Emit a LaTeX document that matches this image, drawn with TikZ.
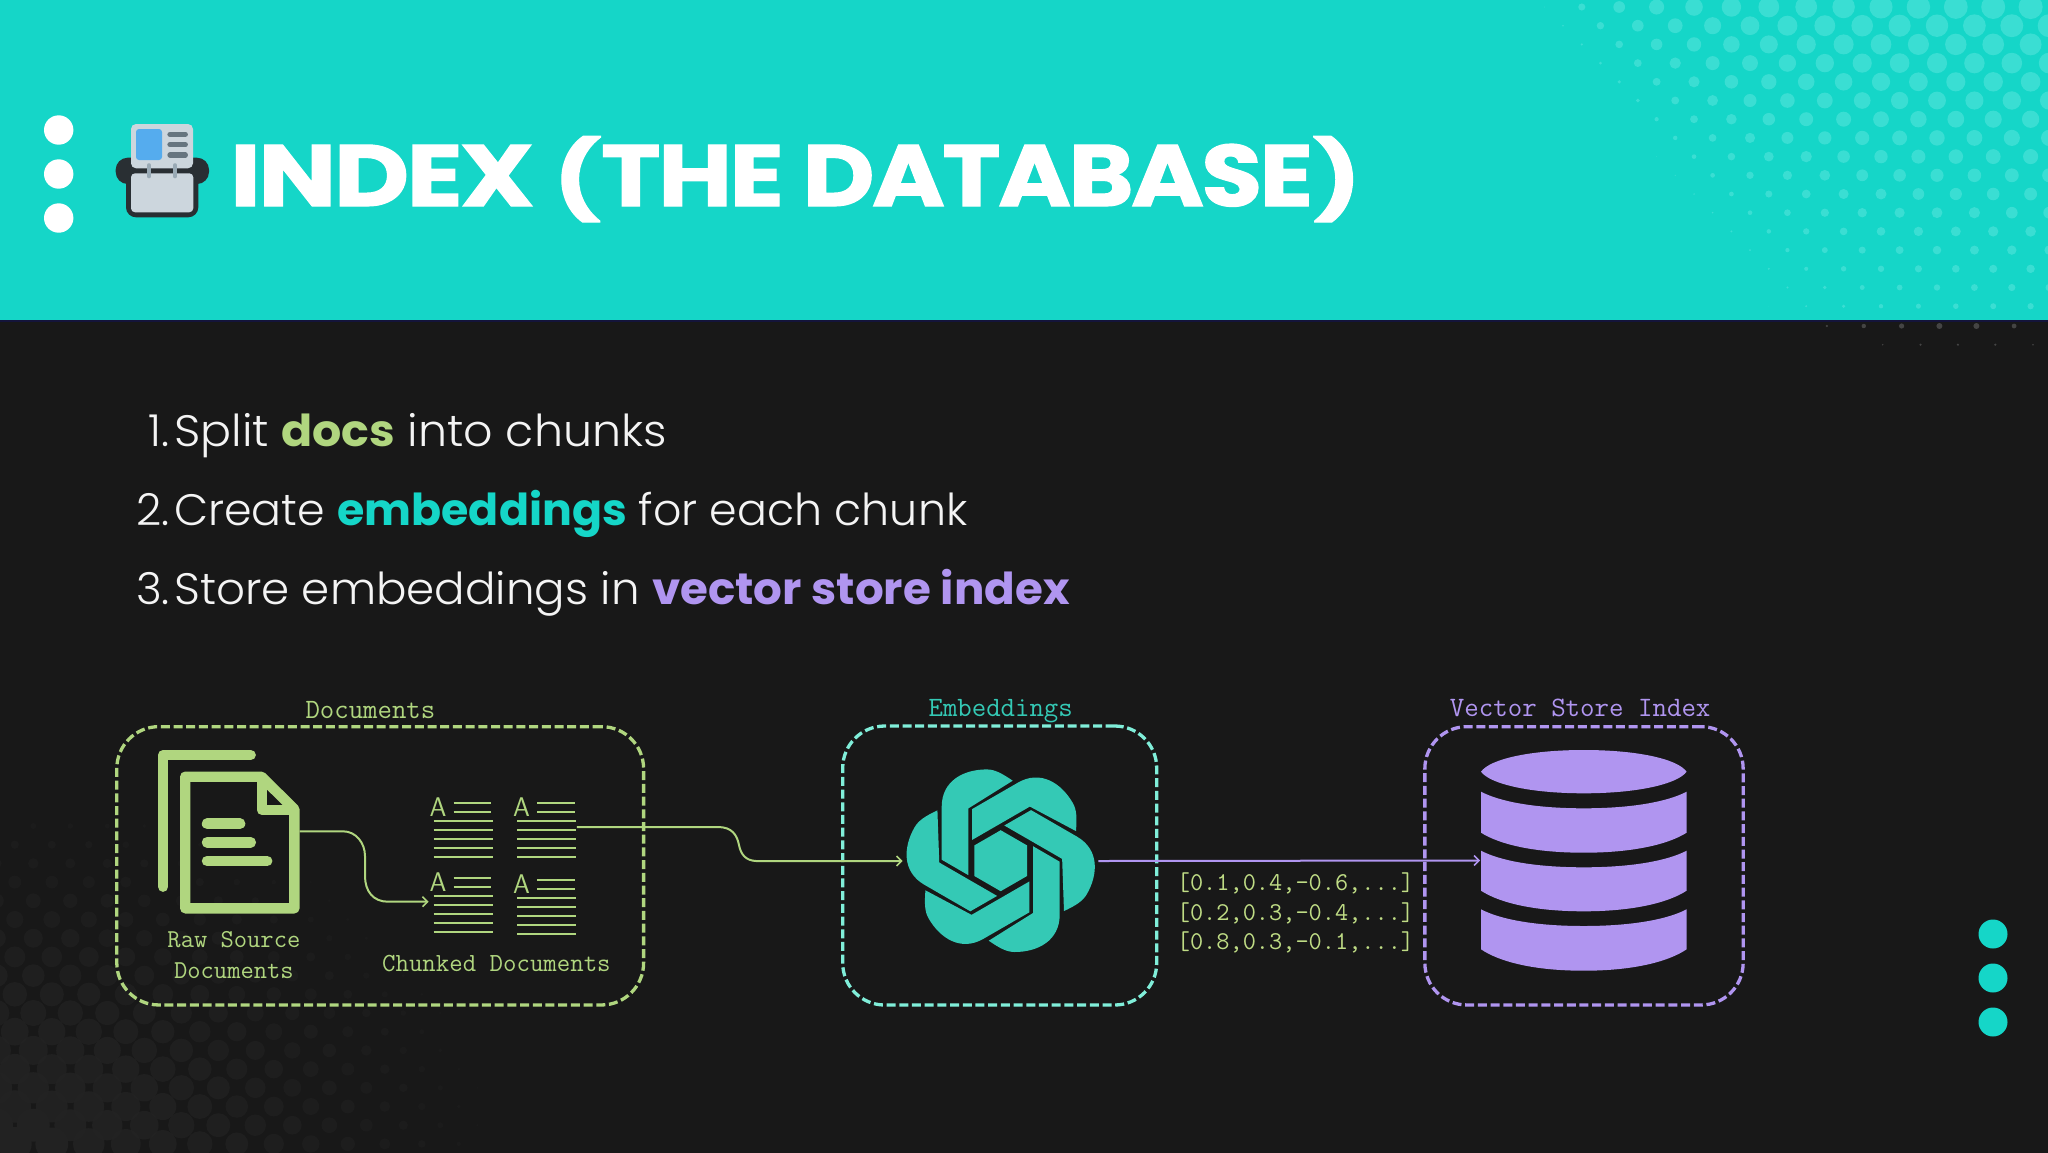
\documentclass[tikz,border=0pt]{standalone}
\usepackage{fontspec}
\usepackage{graphicx}
\usetikzlibrary{arrows.meta}
\setmainfont{Poppins}
\newfontfamily\titlefont[BoldFeatures={FakeBold=1.3,LetterSpace=-2.5}]{Poppins}
\newfontfamily\listfont[BoldFont={Poppins Bold}]{Poppins Light}
\definecolor{hdr}{HTML}{15D6C8}
\definecolor{hdrline}{HTML}{14143A}
\definecolor{hdrdot}{HTML}{3ADED3}
\definecolor{bodybg}{HTML}{181818}
\definecolor{grn}{HTML}{B0D67F}
\definecolor{teal}{HTML}{34C9B5}
\definecolor{mint}{HTML}{80EED9}
\definecolor{purp}{HTML}{B095F0}
\definecolor{listtxt}{HTML}{F4F4F4}
\definecolor{vectxt}{HTML}{BFDC85}
\definecolor{dkdot}{HTML}{232323}
\definecolor{icdark}{HTML}{292F33}
\definecolor{iclight}{HTML}{CCD6DD}
\definecolor{icblue}{HTML}{55ACEE}
\definecolor{icgray}{HTML}{66757F}
\definecolor{icring}{HTML}{99AAB5}
\definecolor{fdot}{HTML}{444444}
\tikzset{
  dbox/.style={draw=#1,line width=3.3pt,dash pattern=on 9pt off 3.7pt,rounded corners=42pt,inner sep=0pt,fill=none},
  lbl/.style={font=\ttfamily\fontsize{#1}{#1}\selectfont,inner sep=0pt,anchor=base},
  listline/.style={font=\listfont\fontsize{44}{50}\selectfont,text=listtxt,inner sep=0pt,anchor=base west},
  listnum/.style={font=\listfont\fontsize{44}{50}\selectfont,text=listtxt,inner sep=0pt,anchor=base east},
  conn/.style={line width=2pt,-{Straight Barb[length=5pt,width=10pt,line width=1.6pt]}},
  chunkline/.style={line width=1.8pt,grn},
  vect/.style={font=\ttfamily\fontsize{25.6}{25.6}\selectfont,text=vectxt,inner sep=0pt,anchor=base},
}
\newcommand{\chunkicon}[3]{% name, x, y of block origin
  \node[font=\sffamily\fontsize{27}{27}\selectfont,text=grn,inner sep=0pt,anchor=base west] (#1) at (#2,#3+19.7) {A};
  \foreach \yy in {6.3,15.3}{\draw[chunkline] (#2+24.3,#3+\yy) -- ++(37.4,0);}
  \foreach \yy in {24.3,33.3,42.3,51.3,60.3}{\draw[chunkline] (#2+4.3,#3+\yy) -- ++(59,0);}
}
\newcommand{\dbseg}[4]{% ytop ymidtop ybot ymidbot
  \fill[purp] (1481,#1) .. controls (1500,{#1+0.6*(#2-#1)}) and (1535,#2) .. (1583.8,#2)
     .. controls (1632,#2) and (1667.6,{#1+0.6*(#2-#1)}) .. (1686.6,#1)
     -- (1686.6,#3) .. controls (1667.6,{#3+0.6*(#4-#3)}) and (1632,#4) .. (1583.8,#4)
     .. controls (1535,#4) and (1500,{#3+0.6*(#4-#3)}) .. (1481,#3) -- cycle;
}
\begin{document}
\begin{tikzpicture}[x=1pt,y=-1pt]
\useasboundingbox (0,0) rectangle (2048,1152);
\fill[bodybg] (-5,-5) rectangle (2053,1157);
% bottom-left halftone
\begin{scope}
\clip (-5,800) rectangle (560,1157);
\foreach \k in {0,...,17}{
  \pgfmathsetmacro{\yy}{826+18.7*\k}
  \pgfmathsetmacro{\xo}{mod(\k,2)==0 ? 33.3 : 14.8}
  \foreach \i in {-1,...,13}{
    \pgfmathsetmacro{\xx}{\xo+37*\i}
    \pgfmathsetmacro{\ss}{sqrt(pow(abs(\xx)/500,2)+pow((1152-\yy)/370,2))}
    \pgfmathsetmacro{\rr}{\ss<1 ? 17*(1-pow(\ss,1.5)) : 0}
    \pgfmathsetmacro{\oo}{\ss<1 ? 0.25+0.75*(1-\ss) : 0}
    \ifdim\rr pt>0.4pt \fill[dkdot,opacity=\oo] (\xx,\yy) circle[radius=\rr]; \fi
  }
}
\end{scope}
% header
\fill[hdr] (-5,-5) rectangle (2053,320);
\fill[hdrline] (-5,320) rectangle (2053,322);
\begin{scope}
\clip (-5,-5) rectangle (2053,320);
\foreach \k in {0,...,16}{
  \pgfmathsetmacro{\yy}{7+18.7*\k}
  \pgfmathsetmacro{\xo}{mod(\k,2)==0 ? 1544.4 : 1563}
  \foreach \i in {0,...,14}{
    \pgfmathsetmacro{\xx}{\xo+37.4*\i}
    \pgfmathsetmacro{\dd}{2.861*(\xx-1500)-100-0.71*3*\yy}
    \ifdim\dd pt>0pt
      \pgfmathsetmacro{\rr}{(12.5-9*\yy/307)*(1-exp(-\dd/350))}
      \fill[hdrdot] (\xx,\yy) circle[radius=\rr];
    \fi
  }
}
\end{scope}
% faint dots under the header
\foreach \xx/\rr in {1826.8/1.2,1863.8/2.2,1901.6/2.6,1939.4/3,1976.4/3,2014.1/2.4}{\fill[fdot] (\xx,326) circle[radius=\rr];}
\foreach \xx/\rr in {1882.7/.8,1920.5/1.2,1957.9/1.2,1995.3/1.2,2033/.9}{\fill[fdot] (\xx,344.7) circle[radius=\rr];}
% side dots
\foreach \yy in {130,174,218}{\fill[white] (58.7,\yy) circle[radius=14.7];}
\foreach \yy in {934,978,1022}{\fill[hdr] (1993,\yy) circle[radius=14.5];}
% header icon
\fill[icdark,rounded corners=12pt] (115.7,157.7) rectangle (209,184);
\fill[icdark,rounded corners=10pt] (126,165) rectangle (198.3,217.3);
\fill[iclight,rounded corners=5pt] (131,124) rectangle (193,168.3);
\fill[icblue,rounded corners=3pt] (136,129) rectangle (162,160);
\foreach \yy in {134.3,144.7,155}{\draw[line width=5.3pt,line cap=round,icgray] (170,\yy) -- (185.3,\yy);}
\fill[iclight,rounded corners=4pt] (131,173.3) rectangle (193.3,212.3);
\foreach \xx in {149,175}{\draw[line width=4.7pt,line cap=round,icring] (\xx,165.5) -- (\xx,176);}
% title
\node[inner sep=0pt,anchor=base west,text=white] (title) at (230,206) {\resizebox{1131pt}{70pt}{\titlefont\fontsize{92}{92}\selectfont\bfseries \scalebox{1.03}[1]{INDEX} \scalebox{1}[0.88]{(}THE \scalebox{0.98}[1]{DATABASE}\scalebox{1}[0.88]{)}}};
% list
\node[listnum] (n1) at (170,446) {1.};
\node[listline] (l1) at (174,446) {\scalebox{1.044}[1]{Split \textcolor{grn}{\bfseries docs} into chunks}};
\node[listnum] (n2) at (170,525) {2.};
\node[listline] (l2) at (174,525) {\scalebox{1.007}[1]{Create \textcolor{hdr}{\bfseries embeddings} for each chunk}};
\node[listnum] (n3) at (170,604) {3.};
\node[listline] (l3) at (174,604) {\scalebox{1.027}[1]{Store embeddings in \textcolor{purp}{\bfseries vector store index}}};
% boxes
\node[dbox=grn,minimum width=526.8pt,minimum height=278.3pt] (docsbox) at (380.2,865.8) {};
\node[dbox=mint,minimum width=314pt,minimum height=279pt] (embbox) at (999.7,865.5) {};
\node[dbox=purp,minimum width=318.3pt,minimum height=278.3pt] (vecbox) at (1584,865.8) {};
\node[lbl=28,text=grn] (docslbl) at (370.4,718) {Documents};
\node[lbl=28,text=teal] (emblbl) at (1000.7,716) {Embeddings};
\node[lbl=28.1,text=purp] (veclbl) at (1580.2,716.5) {Vector Store Index};
\node[lbl=25.8,text=grn] (rawlbl1) at (233.9,947.7) {Raw Source};
\node[lbl=25.8,text=grn] (rawlbl2) at (233.9,978.3) {Documents};
\node[lbl=26.1,text=grn] (chklbl) at (496.4,971) {Chunked Documents};
% raw document icon
\begin{scope}[grn,line join=round]
\draw[line width=10.4pt,line cap=round] (163.2,886.7) -- (163.2,755) -- (250.7,755);
\draw[line width=10.4pt] (185.2,776.7) -- (261.4,776.7) -- (294.4,809.3) -- (294.4,908.3) -- (185.2,908.3) -- cycle;
\draw[line width=10pt] (261.8,777) -- (261.8,810) -- (294.4,810);
\draw[line width=10.7pt,line cap=round] (207.1,823.7) -- (240,823.7);
\draw[line width=10.7pt,line cap=round] (207.1,842.3) -- (250.7,842.3);
\draw[line width=10.7pt,line cap=round] (207.1,861) -- (267.1,861);
\end{scope}
% chunk icons
\chunkicon{c1}{429.3}{797}
\chunkicon{c2}{512.9}{797}
\chunkicon{c3}{429.3}{871.4}
\chunkicon{c4}{512.9}{873.4}
% logo
\begin{scope}[shift={(1000.7,860.7)}]
\foreach \a in {0,60,...,300}{
  \fill[teal,rotate=\a] (12,-80) .. controls (1,-87.5) and (-6,-91.3) .. (-14,-91.3)
     .. controls (-37,-91.3) and (-59,-80) .. (-59,-54) -- (-59,-1) -- (-32.3,14.5) -- (-32.3,-52.3) -- cycle;
}
\fill[teal] (90:30.5) -- (30:30.5) -- (-30:30.5) -- (-90:30.5) -- (-150:30.5) -- (150:30.5) -- cycle;
\end{scope}
% database
\fill[purp] (1481,771.7) .. controls (1490,759) and (1530,750) .. (1583.8,750)
   .. controls (1637.6,750) and (1677.6,759) .. (1686.6,771.7)
   .. controls (1677.6,784) and (1637.6,793.3) .. (1583.8,793.3)
   .. controls (1530,793.3) and (1490,784) .. (1481,771.7) -- cycle;
\dbseg{791.7}{808.3}{832.7}{852.7}
\dbseg{850.7}{867.3}{890.7}{911.3}
\dbseg{909.3}{926}{949.3}{970.7}
% vector text
\node[vect] (v1) at (1295.5,890.3) {[0.1,0.4,-0.6,...]};
\node[vect] (v2) at (1295.5,920.7) {[0.2,0.3,-0.4,...]};
\node[vect] (v3) at (1295.5,949.3) {[0.8,0.3,-0.1,...]};
% connectors
\coordinate (rawout) at (299.6,831.3);
\coordinate (chunkin) at (428.6,901.7);
\coordinate (chunkout) at (576.8,827);
\coordinate (logoin) at (902.7,861);
\coordinate (logoout) at (1098.3,861);
\coordinate (dbin) at (1480.2,860.5);
\draw[conn,grn] (rawout) -- (343,831.3) .. controls (356,831.3) and (365,843) .. (365,856) -- (365,876)
   .. controls (365,891) and (373,901.7) .. (388,901.7) -- (chunkin);
\draw[conn,grn] (chunkout) -- (718,827) .. controls (732,827) and (737,835) .. (739,845)
   .. controls (741,855) and (746,860.5) .. (756,861) -- (logoin);
\draw[conn,purp] (logoout) -- (dbin);
\end{tikzpicture}
\end{document}
